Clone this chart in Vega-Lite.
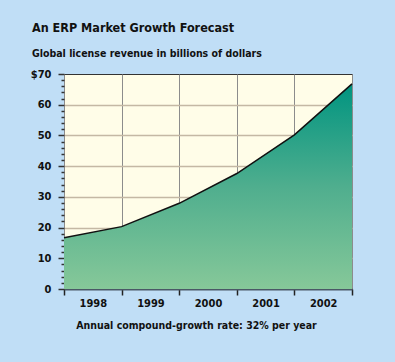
{
  "$schema": "https://vega.github.io/schema/vega-lite/v6.json",
  "width": 288,
  "height": 215,
  "autosize": {"type": "none"},
  "padding": {"left": 64, "top": 74, "right": 43, "bottom": 73},
  "background": "#c0def6",
  "title": {
    "text": "An ERP Market Growth Forecast",
    "subtitle": "Global license revenue in billions of dollars",
    "anchor": "start",
    "frame": "group",
    "dx": -32,
    "offset": 9,
    "font": "DejaVu Sans Condensed, sans-serif",
    "fontSize": 12.5,
    "fontWeight": "bold",
    "color": "#111111",
    "subtitleFont": "DejaVu Sans Condensed, sans-serif",
    "subtitleFontSize": 10.5,
    "subtitleFontWeight": "bold",
    "subtitleColor": "#111111",
    "subtitlePadding": 14
  },
  "data": {
    "values": [
      {"year": 1997.5, "revenue": 16.7},
      {"year": 1998.5, "revenue": 20.3},
      {"year": 1999.5, "revenue": 27.9},
      {"year": 2000.5, "revenue": 37.6},
      {"year": 2001.5, "revenue": 50.2},
      {"year": 2002.5, "revenue": 66.8}
    ]
  },
  "encoding": {
    "x": {
      "field": "year",
      "type": "quantitative",
      "scale": {"domain": [1997.5, 2002.5], "nice": false, "zero": false},
      "axis": {
        "values": [1997.5, 1998.5, 1999.5, 2000.5, 2001.5, 2002.5],
        "labelExpr": "datum.value < 2002 ? format(datum.value + 0.5, 'd') : ''",
        "labelOffset": 28.8,
        "labelFlush": false,
        "labelOverlap": false,
        "labelPadding": 2,
        "labelFont": "DejaVu Sans Condensed, sans-serif",
        "labelFontSize": 11,
        "labelFontWeight": "bold",
        "labelColor": "#111111",
        "tickSize": 6,
        "tickColor": "#222222",
        "tickWidth": 1.5,
        "grid": true,
        "gridColor": "#8c8c8c",
        "gridWidth": 1,
        "domainColor": "#4a5866",
        "domainWidth": 2,
        "title": "Annual compound-growth rate: 32% per year",
        "titleFont": "DejaVu Sans Condensed, sans-serif",
        "titleFontSize": 10.5,
        "titleFontWeight": "bold",
        "titleColor": "#111111",
        "titlePadding": 12,
        "titleX": 132
      }
    },
    "y": {
      "field": "revenue",
      "type": "quantitative",
      "scale": {"domain": [0, 70], "nice": false},
      "axis": {
        "values": [0, 2, 4, 6, 8, 10, 12, 14, 16, 18, 20, 22, 24, 26, 28, 30, 32, 34, 36, 38, 40, 42, 44, 46, 48, 50, 52, 54, 56, 58, 60, 62, 64, 66, 68, 70],
        "labelExpr": "datum.value % 10 === 0 ? (datum.value === 70 ? '$70' : datum.label) : ''",
        "tickSize": {"condition": {"test": "datum.value % 10 === 0", "value": 6}, "value": 3},
        "tickColor": "#333333",
        "tickWidth": 1.5,
        "gridOpacity": {"condition": {"test": "datum.value % 10 === 0 && datum.value > 0 && datum.value < 70", "value": 1}, "value": 0},
        "gridColor": "#c4b8a4",
        "gridWidth": 1.5,
        "domain": false,
        "title": null,
        "labelFont": "DejaVu Sans Condensed, sans-serif",
        "labelFontSize": 11,
        "labelFontWeight": "bold",
        "labelColor": "#111111",
        "labelPadding": 7,
        "labelOverlap": false
      }
    }
  },
  "layer": [
    {
      "mark": {
        "type": "area",
        "color": {
          "gradient": "linear",
          "x1": 0, "y1": 0, "x2": 0, "y2": 1,
          "stops": [
            {"offset": 0, "color": "#009480"},
            {"offset": 0.5, "color": "#4fae8e"},
            {"offset": 1, "color": "#86c899"}
          ]
        }
      }
    },
    {
      "mark": {"type": "line", "color": "#111111", "strokeWidth": 1.5}
    }
  ],
  "config": {
    "view": {"fill": "#fffde8", "stroke": "#333333", "strokeWidth": 1}
  }
}
